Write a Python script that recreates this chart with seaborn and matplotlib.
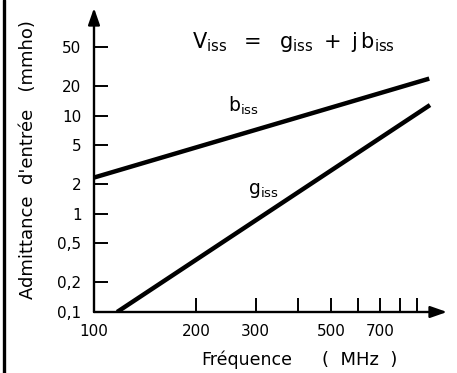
import matplotlib
matplotlib.use("Agg")
import matplotlib.pyplot as plt
import seaborn as sns
import pandas as pd
from matplotlib.lines import Line2D
from matplotlib.ticker import FixedLocator, FixedFormatter, NullFormatter

# ---- data ----
freq_b = [100, 975]
b_iss = [2.35, 24.0]
freq_g = [117, 980]
g_iss = [0.1, 12.9]

y_ticks = [0.1, 0.2, 0.5, 1, 2, 5, 10, 20, 50]
y_tick_labels = ["0,1", "0,2", "0,5", "1", "2", "5", "10", "20", "50"]
x_ticks = [100, 200, 300, 500, 700]
x_tick_labels = ["100", "200", "300", "500", "700"]
x_minor = [400, 600, 800, 900]

df = pd.concat([
    pd.DataFrame({"f": freq_b, "v": b_iss, "s": "b"}),
    pd.DataFrame({"f": freq_g, "v": g_iss, "s": "g"}),
])

sns.set_style("white")
plt.rcParams["font.family"] = ["DejaVu Sans"]
plt.rcParams["text.color"] = "black"

W, H = 457, 373
fig = plt.figure(figsize=(W / 100, H / 100), dpi=100)
L, R, T, B = 94, 447, 8, 312
ax = fig.add_axes([L / W, (H - B) / H, (R - L) / W, (B - T) / H])

sns.lineplot(data=df, x="f", y="v", units="s", estimator=None, color="black",
             linewidth=3.2, ax=ax, legend=False, solid_capstyle="butt")

ax.set_xscale("log")
ax.set_yscale("log")
ax.set_xlim(100, 1100)
ax.set_ylim(0.1, 126)

for s in ax.spines.values():
    s.set_visible(False)

# axes with arrows
ax.annotate("", xy=(1, 0), xytext=(0, 0), xycoords="axes fraction",
            arrowprops=dict(arrowstyle="-|>,head_length=1.0,head_width=0.35",
                            color="black", lw=1.7, shrinkA=0, shrinkB=0))
ax.annotate("", xy=(0, 1), xytext=(0, 0), xycoords="axes fraction",
            arrowprops=dict(arrowstyle="-|>,head_length=1.0,head_width=0.35",
                            color="black", lw=1.7, shrinkA=0, shrinkB=0))

ax.yaxis.set_major_locator(FixedLocator(y_ticks))
ax.yaxis.set_major_formatter(FixedFormatter(y_tick_labels))
ax.yaxis.set_minor_locator(FixedLocator([]))
ax.xaxis.set_major_locator(FixedLocator(x_ticks))
ax.xaxis.set_major_formatter(FixedFormatter(x_tick_labels))
ax.xaxis.set_minor_locator(FixedLocator(x_minor))
ax.xaxis.set_minor_formatter(NullFormatter())

ax.tick_params(axis="both", which="both", direction="in", length=10, width=1.4,
               color="black", labelsize=11, labelcolor="black")
ax.tick_params(axis="y", pad=9, left=True, right=False)
ax.tick_params(axis="x", which="both", pad=9, bottom=True, top=False)

ax.set_xlabel("")
ax.set_ylabel("")
ax.grid(False)

# labels
fig.text(247 / W, 1 - 360 / H, "Fréquence", ha="center", va="center",
         fontsize=12.5, color="black")
fig.text(360 / W, 1 - 360 / H, "(  MHz  )", ha="center", va="center",
         fontsize=13, color="black")
fig.text(28 / W, 1 - 160 / H, "Admittance  d'entrée   (mmho)", rotation=90,
         ha="center", va="center", fontsize=13, color="black")

fig.text(192 / W, 1 - 42 / H, r"$\mathregular{V_{iss}\ \ =\ \ g_{iss}\ +\ j\,b_{iss}}$",
         ha="left", va="center", fontsize=15, color="black")
fig.text(228 / W, 1 - 106 / H, r"$\mathregular{b_{iss}}$", ha="left", va="center",
         fontsize=13.5, color="black")
fig.text(248 / W, 1 - 191 / H, r"$\mathregular{g_{iss}}$", ha="left", va="center",
         fontsize=13.5, color="black")

# left border line
fig.add_artist(Line2D([3.5 / W, 3.5 / W], [0, 1], transform=fig.transFigure,
                      color="black", linewidth=2.4))

fig.savefig("out.png", dpi=100)
